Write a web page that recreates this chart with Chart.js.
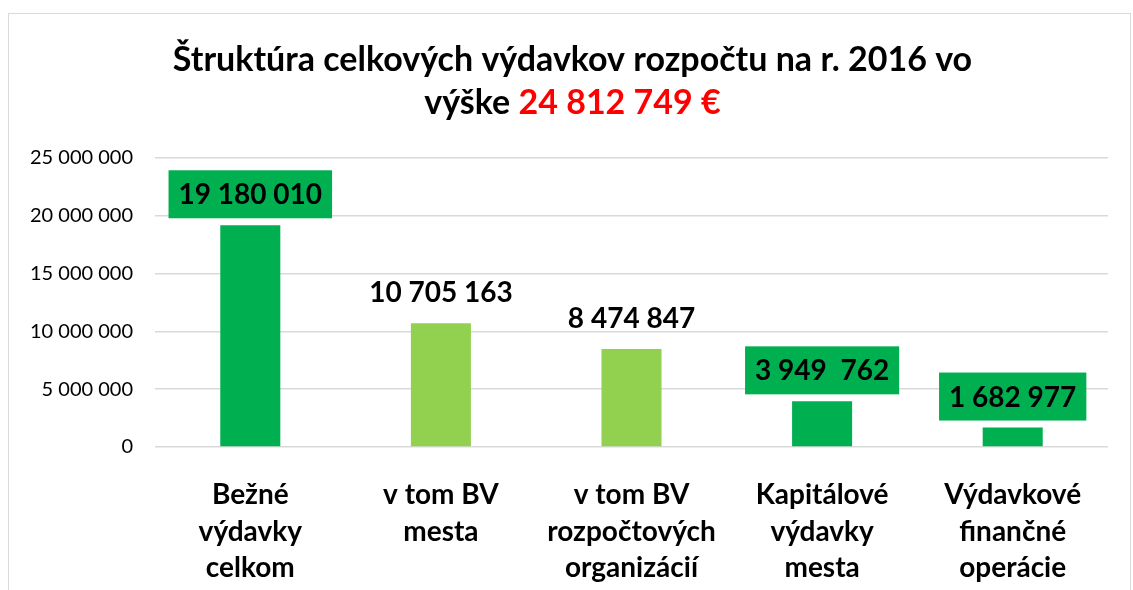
<!DOCTYPE html>
<html>
<head>
<meta charset="utf-8">
<script src="https://cdn.jsdelivr.net/npm/chart.js@4/dist/chart.umd.min.js"></script>
<style>
  html, body { margin: 0; padding: 0; background: #fff; }
  #wrap { position: relative; width: 1133px; height: 590px; overflow: hidden; }
  #frame { position: absolute; left: 8px; top: 13px; right: 2px; bottom: -4px; border: 1.5px solid #d9d9d9; }
  canvas { position: absolute; left: 0; top: 0; }
</style>
</head>
<body>
<div id="wrap">
  <div id="frame"></div>
  <canvas id="budgetChart" width="1133" height="590"></canvas>
</div>
<script>
// data
const categories = [
    ['Bežné', 'výdavky', 'celkom'],
    ['v tom BV', 'mesta'],
    ['v tom BV', 'rozpočtových', 'organizácií'],
    ['Kapitálové', 'výdavky', 'mesta'],
    ['Výdavkové', 'finančné', 'operácie']
];
const values = [19180010, 10705163, 8474847, 3949762, 1682977];
const valueLabels = ['19 180 010', '10 705 163', '8 474 847', '3 949  762', '1 682 977'];
const labelBoxed = [true, false, false, true, true];
const yTicks = [0, 5000000, 10000000, 15000000, 20000000, 25000000];
const titleLine1 = 'Štruktúra celkových výdavkov rozpočtu na r. 2016 vo';
const titleLine2 = 'výške ';
const titleTotal = '24 812 749 €';

const DARK = '#00b050';
const LIGHT = '#92d050';
const barColors = labelBoxed.map(b => b ? DARK : LIGHT);
const FONT = 'Lato, "Open Sans", sans-serif';

const fmt = v => String(v).replace(/\B(?=(\d{3})+(?!\d))/g, ' ');

const titlePlugin = {
    id: 'twoColorTitle',
    afterDraw(chart) {
        const ctx = chart.ctx;
        const cx = (chart.width + 12) / 2;
        ctx.save();
        ctx.font = 'bold 34px ' + FONT;
        ctx.textBaseline = 'middle';
        ctx.textAlign = 'center';
        ctx.fillStyle = '#000';
        ctx.fillText(titleLine1, cx, 60);
        const w1 = ctx.measureText(titleLine2).width;
        const w2 = ctx.measureText(titleTotal).width;
        const x0 = cx - (w1 + w2) / 2;
        ctx.textAlign = 'left';
        ctx.fillText(titleLine2, x0, 103);
        ctx.fillStyle = '#ff0000';
        ctx.fillText(titleTotal, x0 + w1, 103);
        ctx.restore();
    }
};

const labelPlugin = {
    id: 'valueLabels',
    afterDatasetsDraw(chart) {
        const ctx = chart.ctx;
        const meta = chart.getDatasetMeta(0);
        ctx.save();
        ctx.font = 'bold 28px ' + FONT;
        ctx.textAlign = 'center';
        ctx.textBaseline = 'middle';
        meta.data.forEach((bar, i) => {
            const cy = bar.y - 31;
            const w = ctx.measureText(valueLabels[i]).width;
            if (labelBoxed[i]) {
                ctx.fillStyle = DARK;
                ctx.fillRect(bar.x - w / 2 - 10, cy - 24, w + 20, 48);
            }
            ctx.fillStyle = '#000';
            ctx.fillText(valueLabels[i], bar.x, cy + 1);
        });
        ctx.restore();
    }
};

new Chart(document.getElementById('budgetChart'), {
    type: 'bar',
    data: {
        labels: categories,
        datasets: [{
            data: values,
            backgroundColor: barColors,
            barPercentage: 0.315,
            categoryPercentage: 1
        }]
    },
    options: {
        responsive: false,
        animation: false,
        layout: { padding: { top: 158, right: 25, left: 0, bottom: 0 } },
        plugins: { legend: { display: false }, tooltip: { enabled: false } },
        scales: {
            y: {
                min: 0,
                max: 25000000,
                afterBuildTicks: s => { s.ticks = yTicks.map(v => ({ value: v })); },
                afterFit: s => { s.width = 155; },
                border: { display: false },
                grid: { color: '#d9d9d9', lineWidth: 1.5, drawTicks: false },
                ticks: {
                    padding: 22,
                    color: '#000',
                    font: { family: FONT, size: 20 },
                    callback: v => fmt(v)
                }
            },
            x: {
                afterFit: s => { s.height = 143; },
                border: { display: false },
                grid: { display: false },
                ticks: {
                    padding: 22,
                    color: '#000',
                    maxRotation: 0,
                    autoSkip: false,
                    font: { family: FONT, size: 28, weight: 'bold', lineHeight: 1.3 }
                }
            }
        }
    },
    plugins: [titlePlugin, labelPlugin]
});
</script>
</body>
</html>
